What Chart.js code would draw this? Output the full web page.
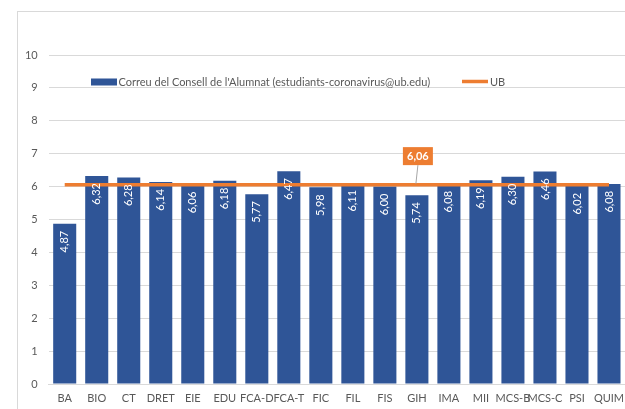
<!DOCTYPE html>
<html>
<head>
<meta charset="utf-8">
<script src="https://cdn.jsdelivr.net/npm/chart.js@4.4.0/dist/chart.umd.min.js"></script>
<style>
  html, body { margin: 0; padding: 0; background: #fff; overflow: hidden; }
  #wrap { position: relative; width: 625px; height: 409px; overflow: hidden; }
  #frame { position: absolute; left: 17px; top: 11px; width: 700px; height: 500px;
           border-left: 1px solid #d9d9d9; border-top: 1px solid #d9d9d9; box-sizing: border-box; }
  canvas { position: absolute; left: 0; top: 0; }
</style>
</head>
<body>
<div id="wrap">
  <div id="frame"></div>
  <canvas id="c" width="625" height="409"></canvas>
</div>
<script>
const categories = ['BA','BIO','CT','DRET','EIE','EDU','FCA-D','FCA-T','FIC','FIL','FIS','GIH','IMA','MII','MCS-B','MCS-C','PSI','QUIM'];
const correuValues = [4.87,6.32,6.28,6.14,6.06,6.18,5.77,6.47,5.98,6.11,6.00,5.74,6.08,6.19,6.30,6.46,6.02,6.08];
const ubValues = [6.06,6.06,6.06,6.06,6.06,6.06,6.06,6.06,6.06,6.06,6.06,6.06,6.06,6.06,6.06,6.06,6.06,6.06];
const ubLabelIndex = 11;
const ubLabelText = '6,06';
const seriesNames = ["Correu del Consell de l'Alumnat (estudiants-coronavirus@ub.edu)", 'UB'];
const yTicks = [0,1,2,3,4,5,6,7,8,9,10];

const FONT = 'Lato, "Open Sans", sans-serif';
const BLUE = '#2f5597';
const ORANGE = '#ed7d31';
const GREY_TXT = '#595959';

const fmt = v => v.toFixed(2).replace('.', ',');

const overlay = {
  id: 'overlay',
  afterDatasetsDraw(chart) {
    const ctx = chart.ctx;
    const barMeta = chart.getDatasetMeta(1);
    ctx.save();
    ctx.fillStyle = '#ffffff';
    ctx.font = '11px ' + FONT;
    ctx.textBaseline = 'middle';
    ctx.textAlign = 'right';
    barMeta.data.forEach((el, i) => {
      ctx.save();
      ctx.translate(el.x, el.y + 7);
      ctx.rotate(-Math.PI / 2);
      ctx.fillText(fmt(correuValues[i]), 0, 0);
      ctx.restore();
    });
    ctx.restore();

    const lineMeta = chart.getDatasetMeta(0);
    const p = lineMeta.data[ubLabelIndex];
    if (p) {
      const bx = p.x + 1, by = p.y - 28.5;
      ctx.save();
      ctx.strokeStyle = '#a6a6a6';
      ctx.lineWidth = 1;
      ctx.beginPath();
      ctx.moveTo(bx, by + 9);
      ctx.lineTo(p.x - 1, p.y - 1);
      ctx.stroke();
      ctx.fillStyle = ORANGE;
      ctx.fillRect(bx - 15, by - 9, 30, 18);
      ctx.fillStyle = '#ffffff';
      ctx.font = 'bold 11px ' + FONT;
      ctx.textAlign = 'center';
      ctx.textBaseline = 'middle';
      ctx.fillText(ubLabelText, bx, by + 0.5);
      ctx.restore();
    }

    ctx.save();
    ctx.fillStyle = BLUE;
    ctx.fillRect(91, 78.5, 26, 7);
    ctx.fillStyle = GREY_TXT;
    ctx.font = '11px ' + FONT;
    ctx.textBaseline = 'middle';
    ctx.textAlign = 'left';
    ctx.fillText(seriesNames[0], 118.5, 82);
    ctx.strokeStyle = ORANGE;
    ctx.lineWidth = 3.5;
    ctx.beginPath();
    ctx.moveTo(462, 81.5);
    ctx.lineTo(488, 81.5);
    ctx.stroke();
    ctx.fillText(seriesNames[1], 490, 82);
    ctx.restore();
  }
};

new Chart(document.getElementById('c'), {
  data: {
    labels: categories,
    datasets: [
      {
        type: 'line',
        label: seriesNames[1],
        data: ubValues,
        borderColor: ORANGE,
        backgroundColor: ORANGE,
        borderWidth: 3.5,
        pointRadius: 0,
        tension: 0,
        order: 0
      },
      {
        type: 'bar',
        label: seriesNames[0],
        data: correuValues,
        backgroundColor: BLUE,
        borderWidth: 0,
        barPercentage: 0.72,
        categoryPercentage: 1.0,
        order: 1
      }
    ]
  },
  options: {
    responsive: false,
    animation: false,
    devicePixelRatio: 1,
    layout: { padding: { left: 0, right: 0, top: 55, bottom: 0 } },
    plugins: { legend: { display: false }, tooltip: { enabled: false } },
    scales: {
      x: {
        grid: { display: false, drawTicks: false },
        border: { display: true, color: '#d9d9d9', width: 1 },
        ticks: { color: GREY_TXT, font: { family: FONT, size: 11 }, padding: 8, autoSkip: false, maxRotation: 0 },
        afterFit: s => { s.height = 25; s.paddingLeft = 0; s.paddingRight = 0; }
      },
      y: {
        min: 0, max: 10,
        afterBuildTicks: s => { s.ticks = yTicks.map(v => ({ value: v })); },
        grid: { color: '#d9d9d9', drawTicks: false },
        border: { display: false },
        ticks: { color: GREY_TXT, font: { family: FONT, size: 11 }, padding: 11 },
        afterFit: s => { s.width = 48.7; s.paddingTop = 0; s.paddingBottom = 0; }
      }
    }
  },
  plugins: [overlay]
});
</script>
</body>
</html>
